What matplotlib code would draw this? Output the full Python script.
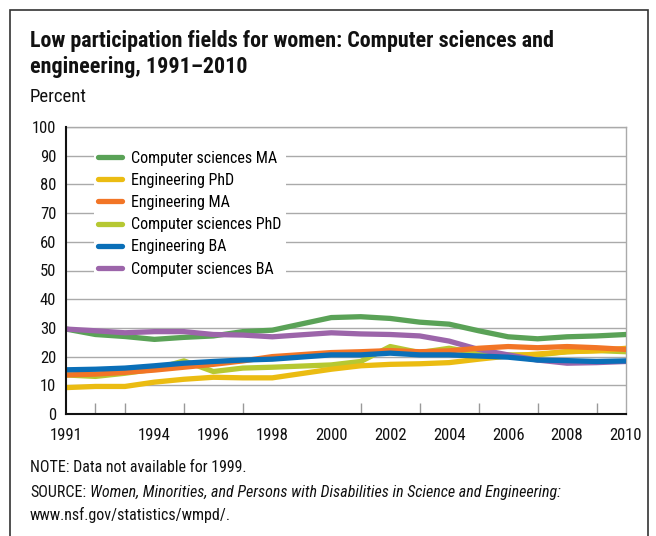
import matplotlib
matplotlib.use("Agg")
from matplotlib import pyplot as plt
from matplotlib.patches import Rectangle

years = [1991, 1992, 1993, 1994, 1995, 1996, 1997, 1998,
         2000, 2001, 2002, 2003, 2004, 2005, 2006, 2007, 2008, 2009, 2010]

cs_ma = [29.6, 27.7, 27.0, 26.0, 26.7, 27.2, 28.7, 29.2,
         33.6, 33.9, 33.3, 32.0, 31.3, 29.0, 26.9, 26.2, 26.9, 27.2, 27.7]
eng_phd = [9.2, 9.6, 9.6, 11.1, 12.1, 12.8, 12.6, 12.6,
           15.6, 16.8, 17.3, 17.5, 17.9, 19.1, 20.2, 20.9, 21.7, 22.0, 22.9]
eng_ma = [13.6, 13.9, 14.5, 15.3, 16.3, 17.3, 18.5, 20.0,
          21.4, 21.7, 22.1, 21.7, 22.0, 22.9, 23.5, 23.1, 23.5, 23.1, 22.5]
cs_phd = [13.6, 13.1, 14.2, 15.6, 18.5, 14.8, 16.0, 16.3,
          17.1, 18.3, 23.5, 21.4, 22.9, 21.2, 20.6, 20.6, 21.7, 22.1, 21.7]
eng_ba = [15.4, 15.6, 16.0, 16.8, 17.7, 18.3, 18.8, 19.1,
          20.6, 20.6, 21.2, 20.6, 20.6, 20.2, 19.8, 18.8, 18.6, 18.3, 18.5]
cs_ba = [29.6, 29.0, 28.3, 28.7, 28.7, 27.7, 27.5, 26.9,
         28.3, 27.9, 27.7, 27.2, 25.4, 22.5, 20.6, 18.8, 17.7, 17.9, 18.3]

labels = ["Computer sciences MA", "Engineering PhD", "Engineering MA",
          "Computer sciences PhD", "Engineering BA", "Computer sciences BA"]
series = [cs_ma, eng_phd, eng_ma, cs_phd, eng_ba, cs_ba]
colors = ["#5aa257", "#ebbc12", "#f27526", "#b6c832", "#0a6fb8", "#9c65aa"]
zorders = [4, 3, 5, 2, 7, 4.5]

tick_years = [y for y in range(1992, 2010) if y != 1999]
label_years = [1991, 1994, 1996, 1998, 2000, 2002, 2004, 2006, 2008, 2010]

plt.rcParams["font.family"] = ["Roboto Condensed", "DejaVu Sans"]

fig = plt.figure(figsize=(6.56, 5.36), dpi=100)
fig.patches.append(Rectangle((10 / 656, -0.1), 638 / 656, 1.1 - 10 / 536,
                             transform=fig.transFigure, fill=False,
                             edgecolor="#333333", linewidth=1.2))

ax = fig.add_axes([66 / 656, 1 - 414 / 536, 560 / 656, 287 / 536])

handles = []
for vals, lab, col, z in zip(series, labels, colors, zorders):
    h, = ax.plot(years, vals, color=col, linewidth=3.8, solid_capstyle="round",
                 solid_joinstyle="round", label=lab, zorder=z)
    handles.append(h)

ax.set_xlim(1991, 2010)
ax.set_ylim(0, 100)
ax.set_yticks(range(0, 101, 10))
ax.set_xticks(label_years)
ax.set_xticks(tick_years, minor=True)
ax.tick_params(axis="y", length=0, labelsize=12, pad=7, colors="#111111")
ax.tick_params(axis="x", which="major", length=0, labelsize=12, pad=10, colors="#111111")
ax.tick_params(axis="x", which="minor", direction="in", length=8, width=1, color="#999999")
ax.grid(axis="y", color="#aaaaaa", linewidth=1)
ax.set_axisbelow(True)
for s in ["left", "bottom"]:
    ax.spines[s].set_color("#111111")
    ax.spines[s].set_linewidth(1.5)
    ax.spines[s].set_zorder(10)
for s in ["right", "top"]:
    ax.spines[s].set_color("#aaaaaa")
    ax.spines[s].set_linewidth(1)

leg = ax.legend(handles=handles, loc="upper left", bbox_to_anchor=(0.035, 0.962),
                frameon=True, fontsize=11.5, handlelength=1.45, handletextpad=0.6,
                labelspacing=0.45, borderpad=0.3)
leg.get_frame().set_facecolor("white")
leg.get_frame().set_edgecolor("none")
leg.get_frame().set_alpha(1)
leg.set_zorder(8)

fig.text(30 / 656, 1 - 47 / 536, "Low participation fields for women: Computer sciences and",
         fontsize=15.8, fontweight="bold", ha="left", va="baseline", color="#111111")
fig.text(30 / 656, 1 - 73 / 536, "engineering, 1991\u20132010",
         fontsize=15.8, fontweight="bold", ha="left", va="baseline", color="#111111")
fig.text(30 / 656, 1 - 102 / 536, "Percent", fontsize=13.5, ha="left", va="baseline",
         color="#111111")

fig.text(30 / 656, 1 - 472 / 536, "NOTE: Data not available for 1999.",
         fontsize=11.5, ha="left", va="baseline", color="#111111")
src = fig.text(30 / 656, 1 - 497 / 536, "SOURCE:", fontsize=11.5, ha="left",
               va="baseline", color="#111111")
fig.canvas.draw()
bb = src.get_window_extent()
fig.text((bb.x1 + 4) / 656, 1 - 497 / 536,
         "Women, Minorities, and Persons with Disabilities in Science and Engineering:",
         fontsize=11.5, fontstyle="italic", ha="left", va="baseline", color="#111111")
fig.text(30 / 656, 1 - 520 / 536, "www.nsf.gov/statistics/wmpd/.",
         fontsize=11.5, ha="left", va="baseline", color="#111111")

fig.savefig("out.png", dpi=100)
